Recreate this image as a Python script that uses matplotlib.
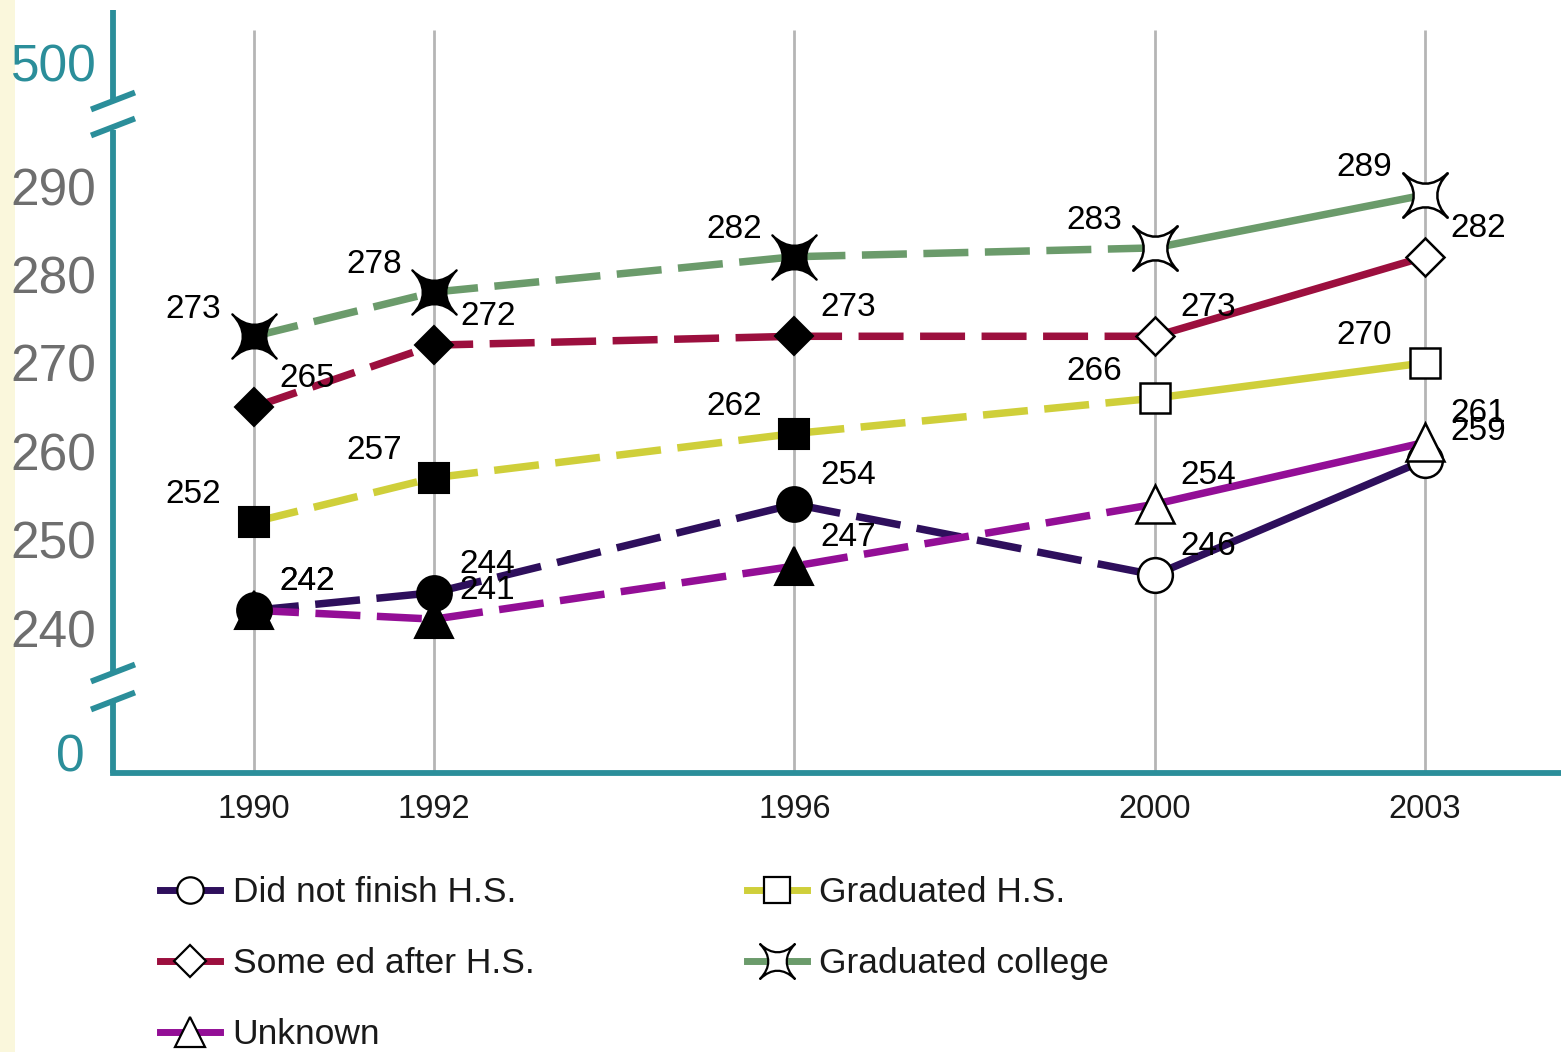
import matplotlib
matplotlib.use("Agg")
import matplotlib.pyplot as plt
import matplotlib.transforms as mtransforms
from matplotlib.path import Path
from matplotlib.lines import Line2D
from matplotlib.patches import Rectangle

# ---------------- data ----------------
years = [1990, 1992, 1996, 2000, 2003]
did_not_finish = [242, 244, 254, 246, 259]
graduated_hs = [252, 257, 262, 266, 270]
some_ed = [265, 272, 273, 273, 282]
graduated_college = [273, 278, 282, 283, 289]
unknown = [242, 241, 247, 254, 261]

series_names = ["Did not finish H.S.", "Some ed after H.S.", "Unknown",
                "Graduated H.S.", "Graduated college"]
ytick_values = [240, 250, 260, 270, 280, 290]
ytick_labels = ["240", "250", "260", "270", "280", "290"]
break_top_label = "500"
break_bottom_label = "0"

# ---------------- style ----------------
plt.rcParams['font.family'] = ['Liberation Sans', 'DejaVu Sans']
TEAL = '#2b8e9a'

# 4-pointed concave star marker (points on the diagonals)
def concave_star():
    tips = [(1, 1), (-1, 1), (-1, -1), (1, -1)]
    ctrl = [(0, 0.06), (-0.06, 0), (0, -0.06), (0.06, 0)]
    verts = [tips[0]]
    codes = [Path.MOVETO]
    for i in range(4):
        verts += [ctrl[i], tips[(i + 1) % 4]]
        codes += [Path.CURVE3, Path.CURVE3]
    verts.append(tips[0])
    codes.append(Path.CLOSEPOLY)
    return Path(verts, codes)

STAR = concave_star()

styles = {
    "Did not finish H.S.": dict(data=did_not_finish, color='#2e0f5c', marker='o', ms=25, side='right'),
    "Some ed after H.S.": dict(data=some_ed, color='#9c0f3e', marker='D', ms=19, side='right'),
    "Unknown": dict(data=unknown, color='#930e96', marker='^', ms=28, side='right'),
    "Graduated H.S.": dict(data=graduated_hs, color='#cfcf3a', marker='s', ms=22, side='left'),
    "Graduated college": dict(data=graduated_college, color='#6b9b6b', marker=STAR, ms=32, side='left'),
}

fig = plt.figure(figsize=(15.61, 10.52), dpi=100)
fig.patch.set_facecolor('white')
fig.add_artist(Rectangle((0, 0), 15 / 1561, 1, transform=fig.transFigure,
                         facecolor='#faf7dc', edgecolor='none', zorder=0))

ax = fig.add_axes([113 / 1561, 1 - 773 / 1052, 1 - 113 / 1561, (773 - 10) / 1052])
ax.set_facecolor('none')

px_per_unit = 8.84
def yval(pix):  # pixel row -> data value (for decorations only)
    return 240 + (628 - pix) / px_per_unit

y_bottom, y_top = yval(773), yval(10)
ax.set_ylim(y_bottom, y_top)
ax.set_xlim(1990 - 141 / 90.08, 1990 + 1307 / 90.08)

# vertical grid lines at each year
ax.vlines(years, y_bottom, yval(30), colors='#b5b5b5', linewidth=2.0, zorder=1)

LW = 5.4
order_draw = ["Did not finish H.S.", "Unknown", "Graduated H.S.", "Some ed after H.S.", "Graduated college"]
for z, name in enumerate(order_draw):
    st = styles[name]
    vals = st['data']
    c = st['color']
    # dashed part (1990-2000)
    ax.plot(years[:4], vals[:4], color=c, lw=LW, linestyle=(0, (6.0, 2.2)),
            zorder=2 + z * 0.1, solid_capstyle='butt', dash_capstyle='butt')
    # solid part (2000-2003)
    ax.plot(years[3:], vals[3:], color=c, lw=LW, linestyle='-', zorder=2 + z * 0.1,
            solid_capstyle='butt')
    # filled markers (1990-1996)
    ax.plot(years[:3], vals[:3], linestyle='none', marker=st['marker'], ms=st['ms'],
            mfc='black', mec='black', mew=1.5, zorder=4 + z * 0.1)
    # open markers (2000-2003)
    ax.plot(years[3:], vals[3:], linestyle='none', marker=st['marker'], ms=st['ms'],
            mfc='white', mec='black', mew=1.8, zorder=4 + z * 0.1)
    # value labels
    off = (-43.5, 19.5) if st['side'] == 'left' else (38.5, 20.5)
    for x, v in zip(years, vals):
        ax.annotate(str(v), (x, v), xytext=off, textcoords='offset points',
                    ha='center', va='center', fontsize=24, color='black', zorder=6)

# ---------------- axes decoration ----------------
for s in ['left', 'top', 'right']:
    ax.spines[s].set_visible(False)
ax.spines['bottom'].set_color(TEAL)
ax.spines['bottom'].set_linewidth(4.2)
ax.spines['bottom'].set_capstyle('projecting')

blend = mtransforms.blended_transform_factory(ax.transAxes, ax.transData)
axis_kw = dict(color=TEAL, lw=4.2, transform=blend, clip_on=False, zorder=3,
               solid_capstyle='butt')
ax.plot([0, 0], [y_top, yval(100)], **axis_kw)
ax.plot([0, 0], [yval(130), yval(673)], **axis_kw)
ax.plot([0, 0], [yval(701), y_bottom], **axis_kw)
dx = 22 / 1448
for pc in [101, 127, 673, 701]:
    ax.plot([-dx, dx], [yval(pc + 8.5), yval(pc - 8.5)], color=TEAL, lw=4.2,
            transform=blend, clip_on=False, zorder=3, solid_capstyle='butt')

ax.set_xticks(years)
ax.set_xticklabels([str(y) for y in years], fontsize=23.5, color='#1a1a1a')
ax.tick_params(axis='x', length=0, pad=15)

yt = [yval(752)] + ytick_values + [yval(62)]
ylab = [break_bottom_label] + ytick_labels + [break_top_label]
ax.set_yticks(yt)
ax.set_yticklabels(ylab, fontsize=37)
ax.tick_params(axis='y', length=0, pad=12)
for t, lab in zip(ax.get_yticklabels(), ylab):
    if lab in (break_top_label, break_bottom_label):
        t.set_color(TEAL)
    else:
        t.set_color('#6e6e6e')
ax.get_yticklabels()[0].set_transform(ax.get_yticklabels()[0].get_transform() +
                                      mtransforms.ScaledTranslation(-12 / 100, 0, fig.dpi_scale_trans))

# ---------------- legend ----------------
handles = []
for name in series_names:
    st = styles[name]
    lms = {'o': 19, 'D': 16, '^': 22, 's': 19}.get(st['marker'], 24) if not isinstance(st['marker'], Path) else 25
    handles.append(Line2D([], [], color=st['color'], lw=5, marker=st['marker'], ms=lms,
                          mfc='white', mec='black', mew=1.6))
leg = fig.legend(handles, series_names, loc='upper left', bbox_to_anchor=(160 / 1561, 1 - 876 / 1052),
                 ncol=2, frameon=False, fontsize=25.5, handlelength=1.7, handletextpad=0.35,
                 columnspacing=6.0, labelspacing=1.08, borderpad=0, borderaxespad=0)
for t in leg.get_texts():
    t.set_color('#1a1a1a')

fig.savefig('out.png', dpi=100, facecolor='white')
